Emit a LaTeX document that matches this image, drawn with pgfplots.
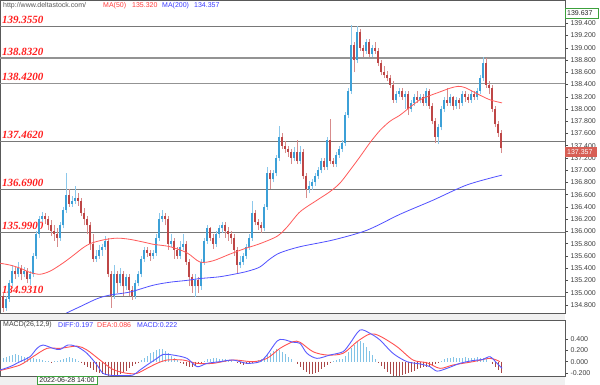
\documentclass[border=0pt]{standalone}
\usepackage{fontspec}
\setmainfont{Liberation Sans}
\newfontfamily\lvlfont{Liberation Serif}
\usepackage{pgfplots}
\usepackage{pgfplotstable}
\pgfplotsset{compat=1.18}
\definecolor{upbody}{RGB}{60,160,215}
\definecolor{upwick}{RGB}{140,200,235}
\definecolor{dnbody}{RGB}{190,70,70}
\definecolor{dnwick}{RGB}{215,140,140}
\definecolor{ma50}{RGB}{255,90,90}
\definecolor{ma200}{RGB}{80,80,255}
\definecolor{lvl}{RGB}{120,120,120}
\definecolor{lvltext}{RGB}{255,30,30}
\definecolor{histup}{RGB}{130,195,230}
\definecolor{histdn}{RGB}{170,70,70}
\definecolor{boxgreen}{RGB}{60,160,60}
\definecolor{strip}{RGB}{240,240,240}
\definecolor{difc}{RGB}{90,90,255}
\definecolor{deac}{RGB}{255,80,80}
\definecolor{txtred}{RGB}{255,60,60}
\definecolor{txtblue}{RGB}{60,60,255}
\definecolor{boxred}{RGB}{215,95,85}

\pgfplotstableread{
o h l c m
134.95 135.00 134.68 134.75 0.06
134.75 134.95 134.70 134.90 0.08
134.90 135.20 134.85 135.15 0.10
135.15 135.45 135.10 135.35 0.12
135.35 135.42 135.22 135.30 0.13
135.30 135.50 135.25 135.40 0.12
135.40 135.45 135.20 135.30 0.10
135.30 135.42 135.25 135.35 0.09
135.35 135.40 135.15 135.22 0.08
135.22 135.35 135.12 135.30 0.07
135.30 135.65 135.25 135.60 0.06
135.60 136.00 135.55 135.95 0.05
135.95 136.25 135.90 136.20 0.04
136.20 136.32 136.15 136.25 0.03
136.25 136.30 136.12 136.20 0.02
136.20 136.25 136.02 136.10 0.01
136.10 136.18 135.92 136.00 -0.01
136.00 136.10 135.85 135.95 0.01
135.95 136.05 135.75 135.90 0.02
135.90 136.15 135.85 136.10 0.03
136.10 136.40 136.05 136.35 0.05
136.35 136.95 136.30 136.60 0.07
136.60 136.70 136.40 136.45 0.08
136.45 136.58 136.40 136.50 0.07
136.50 136.75 136.45 136.55 0.05
136.55 136.62 136.42 136.50 0.02
136.50 136.55 136.25 136.30 -0.03
136.30 136.38 136.10 136.20 -0.06
136.20 136.25 135.95 136.10 -0.09
136.10 136.15 135.70 135.80 -0.12
135.80 135.95 135.50 135.55 -0.15
135.55 135.70 135.50 135.60 -0.18
135.60 135.78 135.55 135.70 -0.20
135.70 135.80 135.60 135.75 -0.22
135.75 135.92 135.70 135.85 -0.24
135.85 135.90 135.25 135.30 -0.26
135.30 135.35 134.75 134.95 -0.27
134.95 135.45 134.90 135.30 -0.26
135.30 135.35 135.00 135.15 -0.24
135.15 135.40 135.10 135.30 -0.22
135.30 135.35 134.95 135.10 -0.19
135.10 135.30 135.05 135.25 -0.16
135.25 135.30 134.95 135.05 -0.12
135.05 135.10 134.88 134.95 -0.08
134.95 135.20 134.90 135.15 -0.04
135.15 135.35 135.10 135.30 -0.01
135.30 135.60 135.25 135.55 0.03
135.55 135.75 135.50 135.70 0.07
135.70 135.75 135.58 135.65 0.11
135.65 135.70 135.52 135.60 0.15
135.60 135.70 135.55 135.65 0.18
135.65 135.95 135.60 135.90 0.21
135.90 136.30 135.85 136.20 0.23
136.20 136.35 136.15 136.25 0.22
136.25 136.30 136.10 136.20 0.19
136.20 136.25 135.70 135.80 0.15
135.80 135.95 135.75 135.85 0.11
135.85 135.90 135.55 135.70 0.07
135.70 135.75 135.55 135.60 0.03
135.60 135.85 135.55 135.75 -0.01
135.75 135.95 135.70 135.80 -0.04
135.80 135.85 135.45 135.50 -0.07
135.50 135.55 135.10 135.25 -0.09
135.25 135.30 135.00 135.10 -0.09
135.10 135.30 134.93 135.20 -0.07
135.20 135.25 135.00 135.10 -0.04
135.10 135.55 135.05 135.50 -0.01
135.50 135.90 135.45 135.85 0.02
135.85 136.10 135.80 136.05 0.04
136.05 136.08 135.85 135.90 0.05
135.90 135.95 135.72 135.80 0.06
135.80 136.00 135.75 135.95 0.06
135.95 136.10 135.90 136.05 0.05
136.05 136.15 135.98 136.10 0.05
136.10 136.15 135.90 136.00 0.04
136.00 136.08 135.85 135.95 0.03
135.95 136.00 135.80 135.90 0.02
135.90 135.95 135.60 135.70 0.00
135.70 135.75 135.32 135.45 -0.03
135.45 135.60 135.40 135.50 -0.05
135.50 135.65 135.45 135.60 -0.06
135.60 135.80 135.55 135.75 -0.05
135.75 135.95 135.70 135.90 -0.03
135.90 136.50 135.85 136.30 -0.01
136.30 136.35 136.10 136.15 0.01
136.15 136.20 136.02 136.10 0.03
136.10 136.15 135.98 136.05 0.05
136.05 136.45 136.00 136.40 0.08
136.40 137.05 136.35 136.95 0.12
136.95 137.00 136.70 136.85 0.16
136.85 137.00 136.80 136.95 0.20
136.95 137.25 136.90 137.20 0.22
137.20 137.72 137.15 137.55 0.21
137.55 137.60 137.35 137.40 0.18
137.40 137.48 137.28 137.35 0.14
137.35 137.40 137.22 137.30 0.09
137.30 137.35 137.10 137.20 0.04
137.20 137.38 137.15 137.30 0.00
137.30 137.50 137.10 137.15 -0.05
137.15 137.40 137.10 137.30 -0.10
137.30 137.35 136.85 136.90 -0.15
136.90 136.95 136.55 136.70 -0.19
136.70 136.82 136.62 136.75 -0.22
136.75 136.85 136.68 136.80 -0.23
136.80 136.95 136.75 136.90 -0.21
136.90 137.05 136.85 137.00 -0.18
137.00 137.20 136.95 137.15 -0.14
137.15 137.20 137.00 137.05 -0.10
137.05 137.55 137.00 137.50 -0.06
137.50 137.83 137.10 137.15 -0.02
137.15 137.20 137.05 137.10 0.01
137.10 137.30 137.05 137.25 0.03
137.25 137.40 137.20 137.35 0.04
137.35 137.50 137.30 137.45 0.05
137.45 137.95 137.40 137.90 0.10
137.90 138.35 137.85 138.30 0.17
138.30 139.37 138.25 139.05 0.24
139.05 139.10 138.60 138.80 0.30
138.80 139.35 138.75 139.25 0.35
139.25 139.30 138.95 139.00 0.37
139.00 139.05 138.85 138.95 0.34
138.95 139.15 138.90 139.10 0.27
139.10 139.15 138.85 138.90 0.19
138.90 139.05 138.85 139.00 0.12
139.00 139.10 138.90 138.95 0.05
138.95 139.00 138.70 138.75 -0.01
138.75 138.80 138.55 138.60 -0.07
138.60 138.70 138.50 138.55 -0.13
138.55 138.62 138.45 138.50 -0.18
138.50 138.55 138.35 138.40 -0.22
138.40 138.45 138.10 138.15 -0.25
138.15 138.30 138.10 138.25 -0.27
138.25 138.35 138.20 138.30 -0.26
138.30 138.35 138.15 138.20 -0.24
138.20 138.30 138.00 138.25 -0.22
138.25 138.30 137.90 138.00 -0.20
138.00 138.15 137.95 138.10 -0.18
138.10 138.25 138.05 138.20 -0.16
138.20 138.30 138.10 138.15 -0.14
138.15 138.25 138.10 138.20 -0.12
138.20 138.25 138.05 138.10 -0.10
138.10 138.35 138.05 138.30 -0.09
138.30 138.32 138.00 138.05 -0.08
138.05 138.10 137.75 137.80 -0.06
137.80 137.85 137.45 137.55 -0.05
137.55 137.75 137.42 137.70 -0.03
137.70 138.05 137.65 138.00 0.01
138.00 138.20 137.95 138.15 0.04
138.15 138.35 138.05 138.10 0.06
138.10 138.25 138.05 138.20 0.07
138.20 138.22 137.98 138.05 0.08
138.05 138.20 138.00 138.15 0.07
138.15 138.18 138.00 138.10 0.06
138.10 138.30 138.05 138.25 0.07
138.25 138.30 138.12 138.20 0.08
138.20 138.25 138.10 138.15 0.07
138.15 138.30 138.10 138.25 0.06
138.25 138.30 138.15 138.20 0.07
138.20 138.35 138.15 138.30 0.08
138.30 138.55 138.25 138.50 0.07
138.50 138.85 138.45 138.75 0.06
138.75 138.83 138.35 138.40 0.05
138.40 138.45 138.25 138.35 0.00
138.35 138.40 137.95 138.00 -0.05
138.00 138.05 137.70 137.75 -0.10
137.75 137.80 137.55 137.60 -0.15
137.60 137.65 137.28 137.357 -0.20
}\candles
\pgfplotstablecreatecol[create col/expr={3+3*\pgfplotstablerow}]{x}\candles

\pgfplotstableread{
x p
0 135.48
10 135.45
20 135.40
30 135.33
40 135.30
50 135.35
60 135.45
67 135.53
75 135.63
82 135.72
90 135.80
103 135.86
117 135.89
130 135.87
145 135.82
153 135.79
170 135.75
187 135.65
200 135.50
213 135.52
230 135.63
245 135.72
260 135.80
277 135.92
287 136.07
300 136.32
317 136.51
330 136.65
340 136.79
350 137.00
360 137.22
370 137.45
380 137.65
390 137.80
400 137.90
410 138.03
420 138.15
430 138.22
440 138.28
450 138.34
458 138.37
465 138.35
477 138.25
490 138.15
502 138.10
}\maA

\pgfplotstableread{
x p
62 134.62
67 134.67
80 134.77
97 134.90
110 134.96
130 135.01
153 135.12
170 135.17
187 135.20
200 135.23
220 135.26
240 135.32
250 135.36
260 135.42
270 135.55
280 135.65
300 135.75
333 135.86
367 136.02
400 136.28
433 136.51
467 136.76
502 136.92
}\maB

\pgfplotstableread{
x v
0 -0.15
10 -0.09
20 0.00
30 0.09
37 0.24
43 0.30
53 0.24
60 0.22
68 0.30
77 0.27
87 0.15
97 -0.06
103 -0.21
113 -0.25
123 -0.25
133 -0.24
140 -0.15
147 -0.06
157 0.06
163 0.13
173 0.12
187 0.06
197 -0.09
207 -0.03
220 0.00
233 0.03
247 -0.03
260 0.00
267 0.12
277 0.37
283 0.40
293 0.35
300 0.33
307 0.15
317 0.06
330 0.12
343 0.18
350 0.33
360 0.57
370 0.51
380 0.39
393 0.15
407 0.00
420 -0.04
430 -0.09
437 -0.17
447 -0.12
460 -0.03
473 0.02
483 0.04
490 0.09
497 -0.03
502 -0.12
}\diff

\pgfplotstableread{
x v
0 -0.16
20 -0.06
33 0.09
47 0.24
60 0.24
77 0.28
87 0.21
100 0.03
113 -0.14
127 -0.21
137 -0.21
147 -0.12
157 -0.03
167 0.03
183 0.03
197 -0.03
213 -0.03
233 0.03
253 0.00
267 0.06
280 0.24
293 0.36
300 0.35
313 0.18
327 0.12
343 0.15
357 0.36
370 0.50
380 0.46
397 0.27
413 0.03
427 -0.02
440 -0.12
453 -0.06
473 0.00
490 0.06
500 0.00
}\dea

\pgfplotsset{
  panel/.style={
    anchor=south west, scale only axis, clip bounding box=upper bound,
    width=565pt, xmin=0, xmax=565, xtick=\empty,
    ytick pos=right, yticklabel pos=right, tick align=outside, major tick length=3pt,
    tick style={draw=black!70, line width=0.5pt},
    axis line style={draw=black!65, line width=0.8pt},
    yticklabel style={font=\fontsize{7}{8}\selectfont, text=black!75, xshift=-1pt,
      /pgf/number format/fixed, /pgf/number format/fixed zerofill,
      /pgf/number format/precision=3, /pgf/number format/1000 sep={},
      /pgf/number format/assume math mode=true},
  }
}

\begin{document}
\begin{tikzpicture}
\path[use as bounding box, fill=white] (0pt,0pt) rectangle (600pt,385pt);
\fill[strip] (0pt,65pt) rectangle (565pt,72pt);
\fill[strip] (0pt,0pt) rectangle (565pt,9pt);

\begin{axis}[panel, at={(0pt,0pt)}, yshift=72pt,
  height=313pt, ymin=134.667, ymax=139.781,
  ytick={134.8,135.0,135.2,135.4,135.6,135.8,136.0,136.2,136.4,136.6,136.8,137.0,137.2,137.4,137.6,137.8,138.0,138.2,138.4,138.6,138.8,139.0,139.2,139.4},
]
% level lines
\addplot[lvl, line width=1pt, forget plot] coordinates {(0,139.355) (565,139.355)};
\addplot[lvl!80, line width=1.3pt, forget plot] coordinates {(0,138.832) (565,138.832)};
\addplot[lvl!80, line width=1.3pt, forget plot] coordinates {(0,138.42) (565,138.42)};
\addplot[lvl, line width=1pt, forget plot] coordinates {(0,137.462) (565,137.462)};
\addplot[lvl, line width=1pt, forget plot] coordinates {(0,136.69) (565,136.69)};
\addplot[lvl, line width=1pt, forget plot] coordinates {(0,135.99) (565,135.99)};
\addplot[lvl, line width=1pt, forget plot] coordinates {(0,134.931) (565,134.931)};
\foreach \lv/\lt in {139.355/139.3550, 138.832/138.8320, 138.42/138.4200, 137.462/137.4620, 136.69/136.6900, 135.99/135.9900, 134.931/134.9310}{
  \edef\temp{\noexpand\node[anchor=base west, inner sep=0pt, yshift=3pt, text=lvltext, font=\noexpand\lvlfont\noexpand\bfseries\noexpand\itshape\noexpand\fontsize{11}{12}\noexpand\selectfont] at (axis cs:2,\lv) {\lt};}
  \temp
}
% wicks
\addplot[draw=none, mark=none, forget plot,
  restrict expr to domain={\thisrow{c}-\thisrow{o}}{0:100},
  error bars/.cd, y dir=plus, y explicit, error mark=none,
  error bar style={draw=upwick, line width=0.9pt}]
  table[x=x, y=l, y error plus expr={\thisrow{h}-\thisrow{l}}] {\candles};
\addplot[draw=none, mark=none, forget plot,
  restrict expr to domain={\thisrow{c}-\thisrow{o}}{-100:-0.00001},
  error bars/.cd, y dir=plus, y explicit, error mark=none,
  error bar style={draw=dnwick, line width=0.9pt}]
  table[x=x, y=l, y error plus expr={\thisrow{h}-\thisrow{l}}] {\candles};
% bodies
\addplot[draw=none, mark=none, forget plot,
  restrict expr to domain={\thisrow{c}-\thisrow{o}}{0:100},
  error bars/.cd, y dir=plus, y explicit, error mark=none,
  error bar style={draw=upbody, line width=2pt}]
  table[x=x, y expr={min(\thisrow{o},\thisrow{c})}, y error plus expr={abs(\thisrow{c}-\thisrow{o})}] {\candles};
\addplot[draw=none, mark=none, forget plot,
  restrict expr to domain={\thisrow{c}-\thisrow{o}}{-100:-0.00001},
  error bars/.cd, y dir=plus, y explicit, error mark=none,
  error bar style={draw=dnbody, line width=2pt}]
  table[x=x, y expr={min(\thisrow{o},\thisrow{c})}, y error plus expr={abs(\thisrow{c}-\thisrow{o})}] {\candles};
% moving averages
\addplot[ma50, line width=0.8pt, smooth, mark=none] table[x=x, y=p] {\maA};
\addplot[ma200, line width=0.8pt, smooth, mark=none] table[x=x, y=p] {\maB};
\end{axis}

\begin{axis}[panel, at={(0pt,0pt)}, yshift=9pt,
  height=56pt, ymin=-0.258, ymax=0.751, ytick={-0.2,0,0.2,0.4},
]
\addplot[ycomb, histup, line width=0.9pt, mark=none, restrict y to domain=0:10] table[x=x, y=m] {\candles};
\addplot[ycomb, histdn, line width=0.9pt, mark=none, restrict y to domain=-10:-0.00001] table[x=x, y=m] {\candles};
\addplot[deac, line width=0.9pt, smooth, mark=none] table[x=x, y=v] {\dea};
\addplot[difc, line width=0.9pt, smooth, mark=none] table[x=x, y=v] {\diff};
\end{axis}

% header texts
\begin{scope}[font=\fontsize{7}{8}\selectfont]
\node[anchor=west, inner sep=0pt, text=black!65] at (3pt,379.5pt) {http://www.deltastock.com/};
\node[anchor=west, inner sep=0pt, text=txtred] at (103pt,379.5pt) {MA(50)};
\node[anchor=west, inner sep=0pt, text=txtred] at (132pt,379.5pt) {135.320};
\node[anchor=west, inner sep=0pt, text=txtblue] at (162pt,379.5pt) {MA(200)};
\node[anchor=west, inner sep=0pt, text=txtblue] at (194pt,379.5pt) {134.357};
\node[anchor=west, inner sep=0pt, text=black!75] at (3pt,60pt) {MACD(26,12,9)};
\node[anchor=west, inner sep=0pt, text=txtblue] at (58pt,60pt) {DIFF:0.197};
\node[anchor=west, inner sep=0pt, text=txtred] at (97pt,60pt) {DEA:0.086};
\node[anchor=west, inner sep=0pt, text=txtblue] at (137pt,60pt) {MACD:0.222};
% price boxes
\draw[boxgreen, fill=white, line width=0.6pt] (565.5pt,366.5pt) rectangle (598pt,377pt);
\node[anchor=west, inner sep=0pt, text=black!85] at (567pt,371.7pt) {139.637};
\fill[boxred] (565pt,228pt) rectangle (597pt,238pt);
\node[anchor=west, inner sep=0pt, text=white] at (567pt,233pt) {137.357};
% date box
\draw[boxgreen, fill=white, line width=0.6pt] (37pt,0.3pt) rectangle (97pt,8.7pt);
\node[inner sep=0pt, text=black!85] at (67pt,4.5pt) {2022-06-28 14:00};
\end{scope}
\end{tikzpicture}
\end{document}
